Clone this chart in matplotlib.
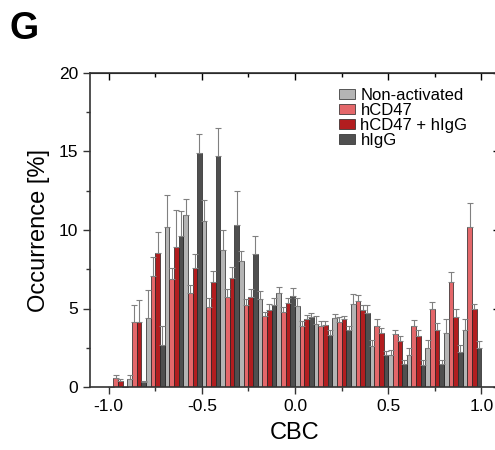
import matplotlib
matplotlib.use("Agg")
import matplotlib.pyplot as plt
import numpy as np

plt.rcParams["font.family"] = ["Liberation Sans", "DejaVu Sans"]
plt.rcParams["axes.unicode_minus"] = False

# bin centres of the CBC histogram
cbc = [-0.95, -0.85, -0.75, -0.65, -0.55, -0.45, -0.35, -0.25, -0.15, -0.05,
       0.05, 0.15, 0.25, 0.35, 0.45, 0.55, 0.65, 0.75, 0.85, 0.95]

non_activated = [0.0, 0.5, 4.4, 10.2, 10.95, 10.6, 8.7, 8.05, 5.6, 6.0,
                 5.15, 4.0, 4.4, 5.3, 2.6, 2.05, 2.05, 2.5, 3.45, 3.6]
non_activated_err = [0.0, 0.25, 1.8, 2.0, 1.0, 1.3, 1.3, 0.6, 0.5, 0.35,
                     0.5, 0.5, 0.25, 0.6, 0.4, 0.3, 0.45, 0.5, 0.85, 0.7]

hcd47 = [0.55, 4.15, 7.1, 6.85, 6.0, 5.1, 5.75, 5.2, 4.5, 4.8,
         3.9, 3.9, 4.15, 5.5, 3.9, 3.4, 3.9, 4.95, 6.7, 10.2]
hcd47_err = [0.2, 1.1, 1.2, 0.7, 0.5, 0.6, 0.5, 0.4, 0.3, 0.3,
             0.3, 0.3, 0.3, 0.35, 0.4, 0.25, 0.35, 0.45, 0.65, 1.55]

hcd47_higg = [0.4, 4.15, 8.55, 8.9, 7.6, 6.7, 6.95, 5.75, 4.9, 5.35,
              4.3, 3.95, 4.3, 4.9, 3.45, 2.95, 3.25, 3.6, 4.45, 4.95]
hcd47_higg_err = [0.1, 1.4, 1.35, 2.4, 0.9, 0.7, 0.7, 0.5, 0.4, 0.3,
                  0.3, 0.25, 0.2, 0.3, 0.3, 0.3, 0.35, 0.5, 0.55, 0.35]

higg = [0.0, 0.3, 2.7, 9.6, 14.9, 14.7, 10.3, 8.5, 5.2, 5.8,
        4.45, 3.3, 3.6, 4.7, 2.05, 1.45, 1.4, 1.45, 2.25, 2.5]
higg_err = [0.0, 0.1, 1.2, 1.6, 1.2, 1.8, 2.2, 1.1, 0.5, 0.5,
            0.25, 0.3, 0.3, 0.5, 0.25, 0.25, 0.3, 0.25, 0.45, 0.45]

series = [
    ("Non-activated", non_activated, non_activated_err, "#b4b4b4"),
    ("hCD47", hcd47, hcd47_err, "#e4676a"),
    ("hCD47 + hIgG", hcd47_higg, hcd47_higg_err, "#b21d1f"),
    ("hIgG", higg, higg_err, "#4f4f4f"),
]

fig = plt.figure(figsize=(4.95, 4.5), dpi=100)
ax = fig.add_axes([90 / 495, 63 / 450, 410 / 495, 314 / 450])

x = np.array(cbc)
w = 0.025
for i, (name, vals, err, col) in enumerate(series):
    vals = np.array(vals)
    err = np.array(err)
    ax.bar(x + (i - 1.5) * w, vals, width=w, color=col, edgecolor="#222222",
           linewidth=0.5, label=name,
           yerr=[np.zeros_like(err), err], capsize=2,
           error_kw=dict(ecolor="#808080", elinewidth=0.8, capthick=0.8))

ax.set_xlim(-1.1, 1.1)
ax.set_ylim(0, 20)
ax.set_xticks([-1.0, -0.5, 0.0, 0.5, 1.0])
ax.set_xticks([-0.75, -0.25, 0.25, 0.75], minor=True)
ax.set_yticks([0, 5, 10, 15, 20])
ax.set_yticks([2.5, 7.5, 12.5, 17.5], minor=True)
ax.tick_params(axis="both", which="major", direction="out", length=5,
               width=1, labelsize=12.5, color="#333333")
ax.tick_params(axis="both", which="minor", direction="out", length=3,
               width=1, color="#333333")
for s in ax.spines.values():
    s.set_linewidth(1.2)
    s.set_color("#333333")

top = ax.secondary_xaxis("top")
top.set_xticks([-1.0, -0.5, 0.0, 0.5, 1.0])
top.set_xticks([-0.75, -0.25, 0.25, 0.75], minor=True)
top.tick_params(which="major", direction="in", length=5, width=1, labeltop=False)
top.tick_params(which="minor", direction="in", length=3, width=1)
right = ax.secondary_yaxis("right")
right.set_yticks([0, 5, 10, 15, 20])
right.set_yticks([2.5, 7.5, 12.5, 17.5], minor=True)
right.tick_params(which="major", direction="in", length=5, width=1, labelright=False)
right.tick_params(which="minor", direction="in", length=3, width=1)

ax.set_xlabel("CBC", fontsize=17, labelpad=6)
ax.set_ylabel("Occurrence [%]", fontsize=17, labelpad=6)

ax.legend(loc="upper right", bbox_to_anchor=(0.945, 0.985), frameon=False,
          fontsize=12, labelspacing=0.0, handlelength=1.0, handleheight=0.6,
          handletextpad=0.3, borderaxespad=0.2)

fig.text(0.02, 0.975, "G", fontsize=27, fontweight="bold", va="top", ha="left")

fig.savefig("out.png", dpi=100)
